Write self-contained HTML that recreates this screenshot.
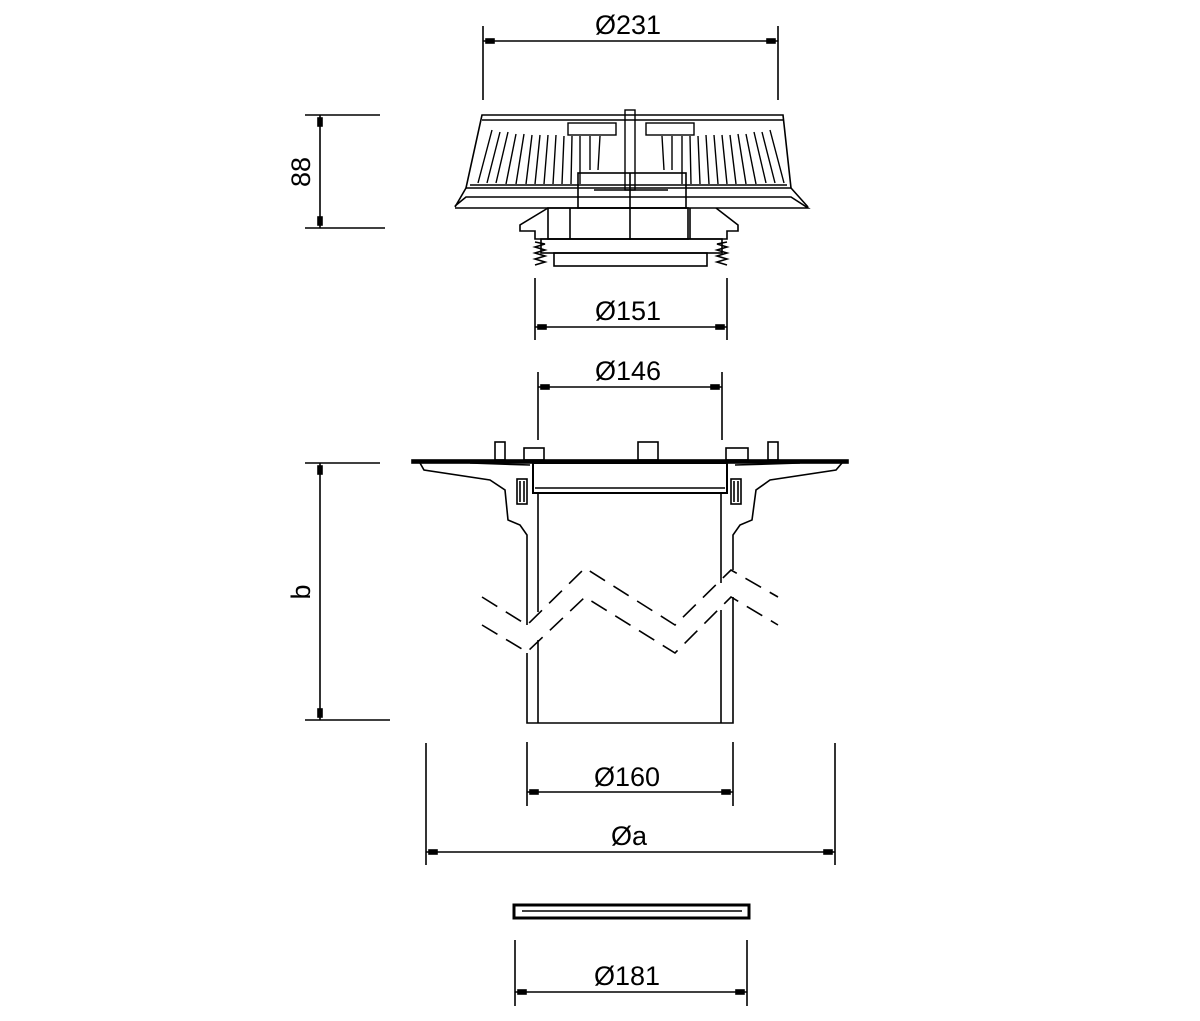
<!DOCTYPE html>
<html><head><meta charset="utf-8"><style>
html,body{margin:0;padding:0;background:#fff;}
svg{display:block;}
text{font-family:"Liberation Sans",sans-serif;font-size:27px;fill:#000;}
</style></head><body>
<svg width="1200" height="1021" viewBox="0 0 1200 1021" xmlns="http://www.w3.org/2000/svg">
<g stroke="#000" stroke-width="1.6" fill="none">
<!-- Ø231 -->
<line x1="483" y1="26" x2="483" y2="100"/><line x1="778" y1="26" x2="778" y2="100"/>
<line x1="483" y1="41" x2="778" y2="41"/>
<rect x="486" y="39" width="8" height="4" fill="#000"/><rect x="767" y="39" width="8" height="4" fill="#000"/>
<!-- 88 -->
<line x1="305" y1="115" x2="380" y2="115"/><line x1="305" y1="228" x2="385" y2="228"/>
<line x1="320" y1="115" x2="320" y2="228"/>
<rect x="318" y="118" width="4" height="8" fill="#000"/><rect x="318" y="217" width="4" height="8" fill="#000"/>
<!-- Ø151 -->
<line x1="535" y1="278" x2="535" y2="340"/><line x1="727" y1="278" x2="727" y2="340"/>
<line x1="535" y1="327" x2="727" y2="327"/>
<rect x="538" y="325" width="8" height="4" fill="#000"/><rect x="716" y="325" width="8" height="4" fill="#000"/>
<!-- Ø146 -->
<line x1="538" y1="372" x2="538" y2="440"/><line x1="722" y1="372" x2="722" y2="440"/>
<line x1="538" y1="387" x2="722" y2="387"/>
<rect x="541" y="385" width="8" height="4" fill="#000"/><rect x="711" y="385" width="8" height="4" fill="#000"/>
<!-- b -->
<line x1="305" y1="463" x2="380" y2="463"/><line x1="305" y1="720" x2="390" y2="720"/>
<line x1="320" y1="463" x2="320" y2="720"/>
<rect x="318" y="466" width="4" height="8" fill="#000"/><rect x="318" y="709" width="4" height="8" fill="#000"/>
<!-- Ø160 -->
<line x1="527" y1="742" x2="527" y2="806"/><line x1="733" y1="742" x2="733" y2="806"/>
<line x1="527" y1="792" x2="733" y2="792"/>
<rect x="530" y="790" width="8" height="4" fill="#000"/><rect x="722" y="790" width="8" height="4" fill="#000"/>
<!-- Øa -->
<line x1="426" y1="743" x2="426" y2="865"/><line x1="835" y1="743" x2="835" y2="865"/>
<line x1="426" y1="852" x2="835" y2="852"/>
<rect x="429" y="850" width="8" height="4" fill="#000"/><rect x="824" y="850" width="8" height="4" fill="#000"/>
<!-- Ø181 -->
<line x1="515" y1="940" x2="515" y2="1006"/><line x1="747" y1="940" x2="747" y2="1006"/>
<line x1="515" y1="992" x2="747" y2="992"/>
<rect x="518" y="990" width="8" height="4" fill="#000"/><rect x="736" y="990" width="8" height="4" fill="#000"/>

<!-- top grate -->
<path d="M482 115 L783 115 L791 188 L466 188 Z"/>
<line x1="482" y1="120" x2="783" y2="120"/>
<line x1="470" y1="185" x2="787" y2="185"/>
<path d="M455 208 L808 208 L791 197 L466 197 L455 206"/>
<path d="M466 188 L455 207"/><path d="M791 188 L808 207"/>
<g stroke-width="1.4">
<path d="M492 130 L478 183 M500 132 L487 183 M508 132 L496 183 M516 134 L506 184 M524 134 L516 184 M532 135 L526 184 M540 135 L535 184 M548 135 L544 184 M556 135 L553 184 M564 136 L562 184 M572 136 L571 184 M580 136 L580 184 M590 136 L590 170 M600 136 L598 170"/>
<path d="M770 130 L784 183 M762 132 L775 183 M754 132 L766 183 M746 134 L756 184 M738 134 L746 184 M730 135 L736 184 M722 135 L727 184 M714 135 L718 184 M706 135 L709 184 M698 136 L700 184 M690 136 L691 184 M682 136 L682 184 M672 136 L672 170 M662 136 L664 170"/>
<rect x="568" y="123" width="48" height="12"/><rect x="646" y="123" width="48" height="12"/>
<rect x="625" y="110" width="10" height="80"/>
</g>
<rect x="578" y="173" width="108" height="35"/>
<line x1="630" y1="173" x2="630" y2="240"/>
<line x1="594" y1="190" x2="668" y2="190"/>
<!-- collar -->
<path d="M548 208 L520 225 L520 231 L535 231 L535 239 L727 239 L727 231 L738 231 L738 225 L716 208"/>
<rect x="548" y="208" width="140" height="31"/>
<line x1="570" y1="208" x2="570" y2="239"/><line x1="690" y1="208" x2="690" y2="239"/>
<rect x="541" y="239" width="181" height="14"/>
<rect x="554" y="253" width="153" height="13"/>
<path d="M535 242 L545 244 L535 247 L545 250 L535 253 L545 256 L535 259 L545 262 L535 265"/>
<path d="M727 242 L717 244 L727 247 L717 250 L727 253 L717 256 L727 259 L717 262 L727 265"/>

<!-- middle body -->
<rect x="412" y="460" width="436" height="3" fill="#000"/>
<path d="M420 463 L424 470 L490 480 L505 490 L508 520 L520 525 L527 535 L527 625"/>
<path d="M527 653 L527 723 L733 723 L733 597"/>
<path d="M733 570 L733 535 L740 525 L752 520 L756 490 L770 480 L836 470 L842 463"/>
<path d="M538 493 L538 612"/><path d="M538 640 L538 723"/>
<path d="M721 493 L721 583"/><path d="M721 610 L721 723"/>
<rect x="533" y="463" width="194" height="30" stroke-width="2"/>
<line x1="535" y1="488" x2="725" y2="488"/>
<rect x="517" y="479" width="10" height="25"/><rect x="731" y="479" width="10" height="25"/>
<line x1="520" y1="481" x2="520" y2="502"/><line x1="524" y1="481" x2="524" y2="502"/>
<line x1="734" y1="481" x2="734" y2="502"/><line x1="738" y1="481" x2="738" y2="502"/>
<rect x="495" y="442" width="10" height="18"/><rect x="524" y="448" width="20" height="12"/>
<rect x="638" y="442" width="20" height="18"/><rect x="726" y="448" width="22" height="12"/><rect x="768" y="442" width="10" height="18"/>
<path d="M470 463 L530 465 M735 465 L800 463"/>
<!-- zigzags -->
<g stroke-dasharray="18,10">
<path d="M482 597 L527 625 L585 568 L675 625 L731 570 L778 597"/>
<path d="M482 625 L527 652 L585 597 L675 653 L731 597 L778 625"/>
</g>
<!-- gasket -->
<rect x="514" y="905" width="235" height="13" stroke-width="3"/>
<line x1="522" y1="911" x2="742" y2="911"/>
</g>
<g>
<text x="595" y="34">Ø231</text>
<text x="595" y="320">Ø151</text>
<text x="595" y="380">Ø146</text>
<text x="594" y="786">Ø160</text>
<text x="611" y="845">Øa</text>
<text x="594" y="985">Ø181</text>
<text transform="translate(310,172) rotate(-90)" text-anchor="middle">88</text>
<text transform="translate(310,592) rotate(-90)" text-anchor="middle">b</text>
</g>
</svg>
</body></html>
